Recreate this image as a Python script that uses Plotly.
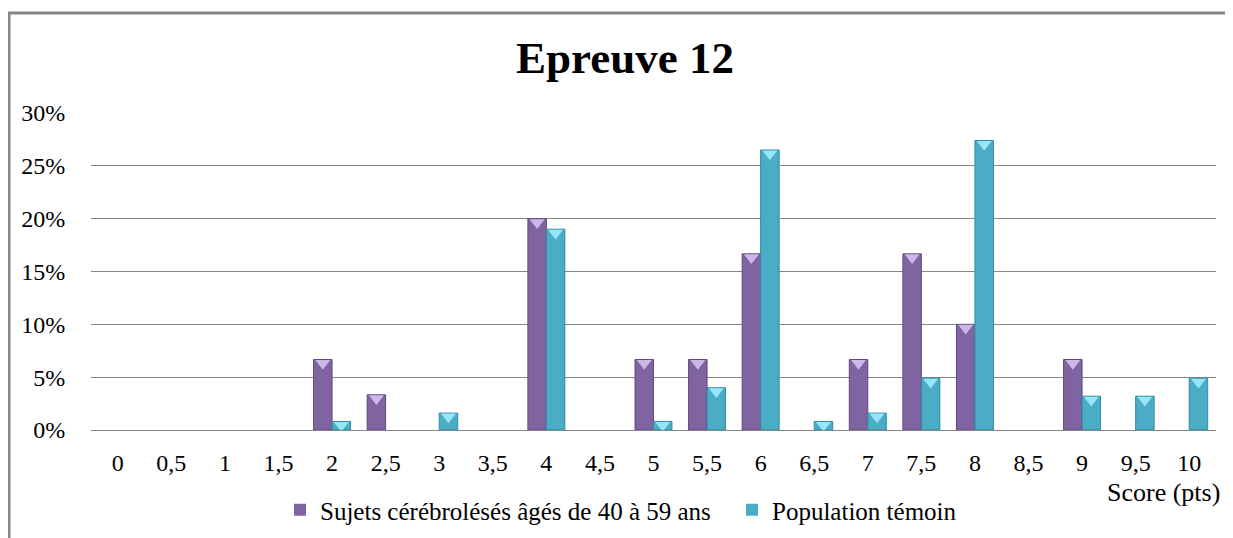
import plotly.graph_objects as go

categories = ["0", "0,5", "1", "1,5", "2", "2,5", "3", "3,5", "4", "4,5", "5",
              "5,5", "6", "6,5", "7", "7,5", "8", "8,5", "9", "9,5", "10"]
sujets = [0, 0, 0, 0, 6.67, 3.33, 0, 0, 20.0, 0, 6.67,
          6.67, 16.67, 0, 6.67, 16.67, 10.0, 0, 6.67, 0, 0]
temoin = [0, 0, 0, 0, 0.8, 0, 1.6, 0, 19.0, 0, 0.8,
          4.0, 26.5, 0.8, 1.6, 4.9, 27.4, 0, 3.2, 3.2, 4.9]
yticks = [0, 5, 10, 15, 20, 25, 30]

name1 = "Sujets cérébrolésés âgés de 40 à 59 ans"
name2 = "Population témoin"

# page body has an 8px margin, so the figure is 8px smaller than the window
W, H = 1225, 530
ML, MR, MT, MB = 83, 17, 105, 108
plot_w = W - ML - MR
plot_h = H - MT - MB
ymax = 30
px_per_unit = plot_h / ymax

BARGAP = 0.31
half = (1 - BARGAP) / 4  # half of one bar width (two bars per group)

xs = list(range(len(categories)))
font = "Liberation Serif"

PURPLE = "#8064A2"
PURPLE_EDGE = "#5e4a7a"
PURPLE_LIGHT = "#cdb6ea"
CYAN = "#4BACC6"
CYAN_EDGE = "#2f8aa3"
CYAN_LIGHT = "#95e6f7"

fig = go.Figure()
fig.add_trace(go.Bar(x=xs, y=sujets, name=name1,
                     marker=dict(color=PURPLE,
                                 line=dict(color=PURPLE_EDGE,
                                           width=[1 if v > 0 else 0 for v in sujets])),
                     hoverinfo="skip"))
fig.add_trace(go.Bar(x=xs, y=temoin, name=name2,
                     marker=dict(color=CYAN,
                                 line=dict(color=CYAN_EDGE,
                                           width=[1 if v > 0 else 0 for v in temoin])),
                     hoverinfo="skip"))

# bevel highlight triangles on top of bars
tri_size = 13
shift = (tri_size / 4 + 0.5) / px_per_unit
for vals, off, col in [(sujets, -half, PURPLE_LIGHT), (temoin, half, CYAN_LIGHT)]:
    tx = [x + off for x, v in zip(xs, vals) if v > 0]
    ty = [v - shift for v in vals if v > 0]
    fig.add_trace(go.Scatter(x=tx, y=ty, mode="markers", showlegend=False,
                             hoverinfo="skip",
                             marker=dict(symbol="triangle-down", size=tri_size,
                                         color=col, line=dict(width=0))))

fig.update_layout(
    width=W, height=H,
    margin=dict(l=ML, r=MR, t=MT, b=MB, autoexpand=False),
    paper_bgcolor="white", plot_bgcolor="white",
    barmode="group", bargap=BARGAP, bargroupgap=0,
    font=dict(family=font, size=24, color="#000000"),
    title=dict(text="<b>Epreuve 12</b>", x=(625 - 8) / W, xanchor="center",
               xref="container",
               y=(H - 49) / H, yanchor="middle", yref="container",
               font=dict(family=font, size=45, color="#000000")),
    showlegend=True,
    legend=dict(orientation="h", x=(272 - ML) / plot_w, xanchor="left",
                y=(plot_h - (502 - MT)) / plot_h, yanchor="middle",
                font=dict(family=font, size=25, color="#000000"),
                itemwidth=30, entrywidth=407, traceorder="normal",
                bgcolor="rgba(0,0,0,0)"),
    xaxis=dict(range=[-0.5, len(categories) - 0.5], tickmode="array",
               tickvals=xs, ticktext=categories, showgrid=False, zeroline=False,
               showline=False, ticks="outside", ticklen=11,
               tickcolor="rgba(0,0,0,0)", tickfont=dict(size=24, family=font)),
    yaxis=dict(range=[0, ymax], tickmode="array", tickvals=yticks,
               ticktext=[f"{v}%" for v in yticks], showgrid=True,
               gridcolor="#868686", gridwidth=1, zeroline=True,
               zerolinecolor="#868686", zerolinewidth=1, showline=False,
               ticks="outside", ticklen=20, tickcolor="rgba(0,0,0,0)",
               tickfont=dict(size=24, family=font)),
    annotations=[dict(text="Score (pts)", xref="paper", yref="paper",
                      x=(1214 - ML) / plot_w, xanchor="right",
                      y=(plot_h - (484 - MT)) / plot_h, yanchor="middle",
                      showarrow=False, font=dict(family=font, size=26, color="#000000"))],
    shapes=[dict(type="rect", xref="paper", yref="paper",
                 x0=(1 - ML) / plot_w, x1=1.2,
                 y0=-0.6, y1=(plot_h + MT - 5) / plot_h,
                 line=dict(color="#868686", width=3), layer="below")],
)

fig.write_html("out.html")
